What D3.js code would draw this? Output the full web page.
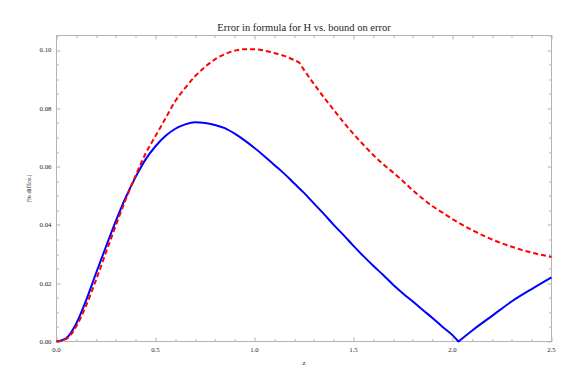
<!DOCTYPE html>
<html>
<head>
<meta charset="utf-8">
<script src="https://cdn.jsdelivr.net/npm/d3@7"></script>
<style>
  body { margin: 0; background: #fff; }
  text { font-family: "Liberation Serif", "Times New Roman", serif; fill: #222; }
</style>
</head>
<body>
<svg id="chart" width="574" height="382"></svg>
<script>
// values
const zBlue = [0, 0.05, 0.1, 0.15, 0.2, 0.25, 0.3, 0.35, 0.4, 0.45, 0.5, 0.55, 0.6, 0.65, 0.7, 0.75,
    0.8, 0.85, 0.9, 0.95, 1.0, 1.05, 1.1, 1.15, 1.2, 1.25, 1.3, 1.35, 1.4, 1.45, 1.5, 1.55, 1.6,
    1.65, 1.7, 1.75, 1.8, 1.85, 1.9, 1.95, 2.0, 2.03, 2.1, 2.2, 2.3, 2.4, 2.5];
const errFormula = [0, 0.0012, 0.0062, 0.0142, 0.0235, 0.0326, 0.0414, 0.0495, 0.0565, 0.0625,
    0.067, 0.0705, 0.073, 0.0745, 0.0752, 0.075, 0.0743, 0.0732, 0.0713, 0.069, 0.0664, 0.0636,
    0.0606, 0.0576, 0.0543, 0.051, 0.0474, 0.0438, 0.04, 0.0365, 0.0328, 0.0293, 0.026, 0.0228,
    0.0195, 0.0165, 0.0137, 0.0108, 0.008, 0.005, 0.0022, 0.0, 0.0038, 0.0088, 0.0138, 0.018, 0.022];

const zRed = [0, 0.05, 0.1, 0.15, 0.2, 0.25, 0.3, 0.35, 0.4, 0.45, 0.5, 0.55, 0.6, 0.65, 0.7, 0.75,
    0.8, 0.85, 0.9, 0.95, 1.0, 1.05, 1.1, 1.15, 1.2, 1.225, 1.25, 1.3, 1.35, 1.4, 1.45, 1.5, 1.55,
    1.6, 1.65, 1.7, 1.75, 1.8, 1.85, 1.9, 1.95, 2.0, 2.1, 2.2, 2.3, 2.4, 2.5];
const errBound = [0, 0.0009, 0.0052, 0.0124, 0.0212, 0.0306, 0.0399, 0.0488, 0.057, 0.0645, 0.0705,
    0.0765, 0.0825, 0.087, 0.091, 0.0942, 0.0968, 0.0986, 0.0998, 0.1003, 0.1003, 0.0998, 0.099,
    0.098, 0.0966, 0.0958, 0.0932, 0.0884, 0.0838, 0.0795, 0.0752, 0.0712, 0.0675, 0.064, 0.0608,
    0.058, 0.055, 0.0518, 0.049, 0.0464, 0.0442, 0.042, 0.0382, 0.035, 0.0325, 0.0305, 0.029];

// indices where the curves have a sharp corner
const blueKink = 41; // z = 2.03
const redKink = 25;  // z = 1.225

const xTicks = [0, 0.5, 1.0, 1.5, 2.0, 2.5];
const yTicks = [0, 0.02, 0.04, 0.06, 0.08, 0.10];

const title = "Error in formula for H vs. bound on error";
const xLabel = "z";
const yLabel = "|% diffce.|";

let margin = { top: 35.5, right: 22.5, bottom: 40.5, left: 56.5 },
    width = 574 - margin.left - margin.right,
    height = 382 - margin.top - margin.bottom;

var svg = d3.select("#chart");
var g = svg.append("g").attr("transform", `translate(${margin.left},${margin.top})`);

var x = d3.scaleLinear().domain([0, 2.5]).range([0, width]);
var y = d3.scaleLinear().domain([0, 0.105]).range([height, 0]);

const frameColor = "#b4b4b4";

// frame
g.append("rect")
    .attr("width", width)
    .attr("height", height)
    .attr("fill", "none")
    .attr("stroke", frameColor)
    .attr("stroke-width", 1);

// ticks, drawn inward on all four sides
const xMinor = d3.range(0, 26).map((i) => i / 10);
const yMinor = d3.range(0, 22).map((i) => i * 0.005).filter((v) => v <= 0.105);

function isMajor(v, step) {
    return Math.abs(v / step - Math.round(v / step)) < 1e-6;
}

xMinor.forEach(function (v) {
    let len = isMajor(v, 0.5) ? 4 : 2.5;
    let px = Math.round(x(v)) + 0.5;
    g.append("line").attr("x1", px).attr("x2", px).attr("y1", height).attr("y2", height - len)
        .attr("stroke", frameColor);
    g.append("line").attr("x1", px).attr("x2", px).attr("y1", 0).attr("y2", len)
        .attr("stroke", frameColor);
});

yMinor.forEach(function (v) {
    let len = isMajor(v, 0.02) ? 4 : 2.5;
    let py = Math.round(y(v)) + 0.5;
    g.append("line").attr("x1", 0).attr("x2", len).attr("y1", py).attr("y2", py)
        .attr("stroke", frameColor);
    g.append("line").attr("x1", width).attr("x2", width - len).attr("y1", py).attr("y2", py)
        .attr("stroke", frameColor);
});

// tick labels
g.selectAll("text.xtick")
    .data(xTicks)
    .enter()
    .append("text")
    .attr("class", "xtick")
    .attr("x", (d) => x(d))
    .attr("y", height + 10)
    .attr("text-anchor", "middle")
    .style("font-size", "6.8px")
    .text((d) => d3.format(".1f")(d));

g.selectAll("text.ytick")
    .data(yTicks)
    .enter()
    .append("text")
    .attr("class", "ytick")
    .attr("x", -5)
    .attr("y", (d) => y(d) + 2.3)
    .attr("text-anchor", "end")
    .style("font-size", "6.8px")
    .text((d) => d3.format(".2f")(d));

// axis labels and title
g.append("text")
    .attr("x", width / 2)
    .attr("y", height + 23)
    .attr("text-anchor", "middle")
    .style("font-size", "6.8px")
    .text(xLabel);

g.append("text")
    .attr("transform", `translate(-26,${height / 2}) rotate(-90)`)
    .attr("text-anchor", "middle")
    .style("font-size", "6.8px")
    .text(yLabel);

svg.append("text")
    .attr("x", margin.left + width / 2)
    .attr("y", 30.5)
    .attr("text-anchor", "middle")
    .style("font-size", "10.5px")
    .text(title);

// curves: smooth pieces joined at the sharp corner
var line = d3.line()
    .x((d) => x(d[0]))
    .y((d) => y(d[1]))
    .curve(d3.curveMonotoneX);

function kinkedPath(zs, vs, k) {
    let pts = zs.map((z, i) => [z, vs[i]]);
    let a = line(pts.slice(0, k + 1));
    let b = line(pts.slice(k));
    return a + "L" + b.slice(1);
}

g.append("path")
    .attr("d", kinkedPath(zBlue, errFormula, blueKink))
    .attr("fill", "none")
    .attr("stroke", "#0000ff")
    .attr("stroke-width", 2)
    .attr("stroke-linejoin", "round");

g.append("path")
    .attr("d", kinkedPath(zRed, errBound, redKink))
    .attr("fill", "none")
    .attr("stroke", "#ff0000")
    .attr("stroke-width", 2)
    .attr("stroke-dasharray", "5,3");
</script>
</body>
</html>
